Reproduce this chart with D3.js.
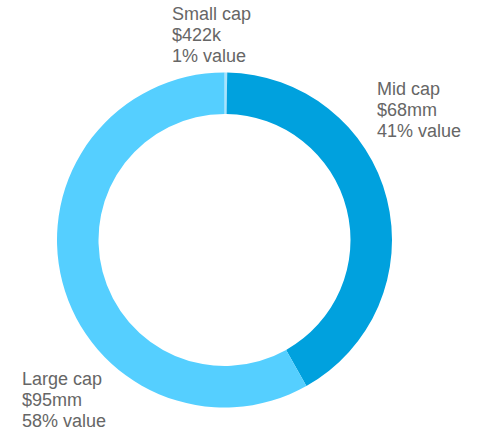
<!DOCTYPE html>
<meta charset="utf-8">
<head>
	<script src="https://d3js.org/d3.v7.min.js"></script>
</head>
<style>
	body {
		margin: 0;
		background: #fff;
	}
	.label {
		font-family: "Liberation Sans", Arial, sans-serif;
		font-size: 18px;
		fill: #666;
	}
</style>
<body>
<div id="chart"></div>
<script>
	// data ($mm)
	var categories = ["Small cap", "Mid cap", "Large cap"];
	var values = [0.422, 68, 95];
	var valueLabels = ["$422k", "$68mm", "$95mm"];
	var shareLabels = ["1% value", "41% value", "58% value"];
	var colors = ["#a9e2fb", "#00a1de", "#55cfff"];

	var width = 479,
	    height = 434,
	    cx = 224.5,
	    cy = 240,
	    outerR = 167.5,
	    innerR = 126;

	// label anchor (x of left edge, y of first baseline) for each slice
	var labelPos = [[172, 20], [377, 95], [22, 385]];
	var lineH = 21;

	var svg = d3.select("#chart").append("svg")
		.attr("width", width)
		.attr("height", height);

	var g = svg.append("g")
		.attr("transform", "translate(" + cx + "," + cy + ")");

	var pie = d3.pie()
		.sort(null)
		.value(function(d) { return d; });

	var arc = d3.arc()
		.innerRadius(innerR)
		.outerRadius(outerR);

	g.selectAll("path")
		.data(pie(values))
		.enter().append("path")
		.attr("d", arc)
		.attr("fill", function(d, i) { return colors[i]; });

	// labels
	var labels = svg.selectAll("text.label")
		.data(categories)
		.enter().append("text")
		.attr("class", "label")
		.attr("x", function(d, i) { return labelPos[i][0]; })
		.attr("y", function(d, i) { return labelPos[i][1]; });

	labels.each(function(d, i) {
		var t = d3.select(this);
		[d, valueLabels[i], shareLabels[i]].forEach(function(s, k) {
			t.append("tspan")
				.attr("x", labelPos[i][0])
				.attr("y", labelPos[i][1] + k * lineH)
				.text(s);
		});
	});
</script>
</body>
